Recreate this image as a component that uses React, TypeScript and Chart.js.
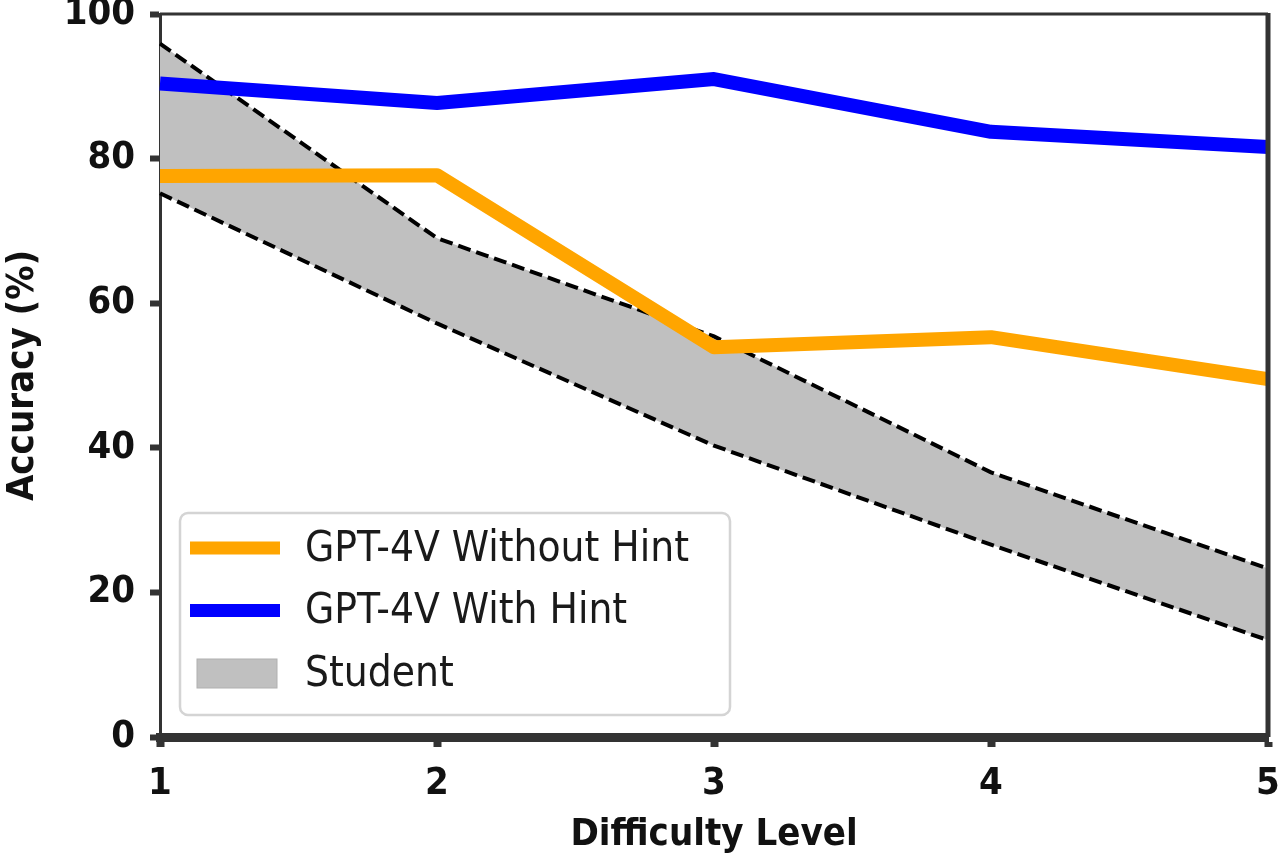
import { useEffect, useRef } from 'react';
import { Chart, registerables } from 'chart.js';

Chart.register(...registerables);

const levels = ['1', '2', '3', '4', '5'];
const withoutHint = [77.6, 77.7, 53.9, 55.3, 49.5];
const withHint = [90.4, 87.7, 91.0, 83.7, 81.6];
const studentHigh = [95.9, 69.0, 55.4, 36.6, 23.3];
const studentLow = [75.2, 57.2, 40.3, 26.6, 13.4];
const yTicks = [0, 20, 40, 60, 80, 100];

const FONT = '"DejaVu Sans Condensed", "DejaVu Sans", sans-serif';
const AXIS = '#333333';

// matplotlib-style legend drawn inside the plot, bottom left
const boxLegend = {
  id: 'boxLegend',
  afterDraw(chart: Chart) {
    const { ctx, chartArea } = chart;
    const x = chartArea.left + 20;
    const w = 550;
    const h = 202;
    const y = chartArea.bottom - 22 - h;
    ctx.save();
    ctx.beginPath();
    ctx.roundRect(x, y, w, h, 8);
    ctx.fillStyle = 'rgba(255,255,255,0.8)';
    ctx.fill();
    ctx.lineWidth = 2.5;
    ctx.strokeStyle = '#d4d4d4';
    ctx.stroke();

    const items = [
      { label: 'GPT-4V Without Hint', color: '#FFA500', kind: 'line' },
      { label: 'GPT-4V With Hint', color: '#0000FF', kind: 'line' },
      { label: 'Student', color: '#C0C0C0', kind: 'box' },
    ];
    ctx.font = `42px ${FONT}`;
    ctx.textBaseline = 'middle';
    ctx.textAlign = 'left';
    items.forEach((it, i) => {
      const cy = y + 35 + i * 62.5;
      if (it.kind === 'line') {
        ctx.fillStyle = it.color;
        ctx.fillRect(x + 10, cy - 6.5, 90, 13);
      } else {
        ctx.fillStyle = it.color;
        ctx.fillRect(x + 17, cy - 14, 80, 29);
        ctx.strokeStyle = '#b0b0b0';
        ctx.lineWidth = 1;
        ctx.strokeRect(x + 17, cy - 14, 80, 29);
      }
      ctx.fillStyle = '#1a1a1a';
      ctx.fillText(it.label, x + 125, cy + 2);
    });
    ctx.restore();
  },
};

// top and right spines
const frame = {
  id: 'frame',
  afterDatasetsDraw(chart: Chart) {
    const { ctx, chartArea } = chart;
    ctx.save();
    ctx.strokeStyle = AXIS;
    ctx.lineWidth = 3;
    ctx.beginPath();
    ctx.moveTo(chartArea.left, chartArea.top);
    ctx.lineTo(chartArea.right, chartArea.top);
    ctx.stroke();
    ctx.lineWidth = 5;
    ctx.beginPath();
    ctx.moveTo(chartArea.right, chartArea.top - 1);
    ctx.lineTo(chartArea.right, chartArea.bottom);
    ctx.stroke();
    ctx.restore();
  },
};

export default function App() {
  const canvasRef = useRef<HTMLCanvasElement>(null);
  const chartRef = useRef<Chart | null>(null);

  useEffect(() => {
    document.body.style.margin = '0';
    if (!canvasRef.current) return;
    if (chartRef.current) chartRef.current.destroy();

    chartRef.current = new Chart(canvasRef.current, {
      type: 'line',
      data: {
        labels: levels,
        datasets: [
          {
            label: 'GPT-4V Without Hint',
            data: withoutHint,
            borderColor: '#FFA500',
            borderWidth: 14,
            pointRadius: 0,
            borderJoinStyle: 'round',
            fill: false,
          },
          {
            label: 'GPT-4V With Hint',
            data: withHint,
            borderColor: '#0000FF',
            borderWidth: 14,
            pointRadius: 0,
            borderJoinStyle: 'round',
            fill: false,
          },
          {
            label: 'Student',
            data: studentHigh,
            borderColor: '#000000',
            borderWidth: 4,
            borderDash: [13, 6],
            backgroundColor: '#C0C0C0',
            pointRadius: 0,
            fill: '+1',
          },
          {
            label: 'Student low',
            data: studentLow,
            borderColor: '#000000',
            borderWidth: 4,
            borderDash: [13, 6],
            pointRadius: 0,
            fill: false,
          },
        ],
      },
      options: {
        responsive: true,
        maintainAspectRatio: false,
        animation: false,
        layout: { padding: { top: 14, right: 12, left: 0, bottom: 0 } },
        plugins: {
          legend: { display: false },
          tooltip: { enabled: false },
          filler: { drawTime: 'beforeDatasetsDraw' },
        },
        scales: {
          x: {
            offset: false,
            grid: {
              drawOnChartArea: false,
              drawTicks: true,
              tickLength: 10,
              tickWidth: 8,
              tickColor: AXIS,
            },
            border: { color: AXIS, width: 9 },
            ticks: {
              color: '#111',
              padding: 14,
              font: { family: FONT, size: 38, weight: 'bold' },
            },
            title: {
              display: true,
              text: 'Difficulty Level',
              color: '#111',
              padding: { top: 0, bottom: 1 },
              font: { family: FONT, size: 38, weight: 'bold' },
            },
            afterFit: (scale: any) => {
              scale.height = 122;
              scale.paddingLeft = 0;
              scale.paddingRight = 0;
            },
          },
          y: {
            min: 0,
            max: 100,
            afterBuildTicks: (scale: any) => {
              scale.ticks = yTicks.map((v) => ({ value: v }));
            },
            grid: {
              drawOnChartArea: false,
              drawTicks: true,
              tickLength: 10,
              tickWidth: 6,
              tickColor: AXIS,
            },
            border: { color: AXIS, width: 3 },
            ticks: {
              color: '#111',
              padding: 15,
              font: { family: FONT, size: 38, weight: 'bold' },
            },
            title: {
              display: true,
              text: 'Accuracy (%)',
              color: '#111',
              padding: { top: 0, bottom: 0 },
              font: { family: FONT, size: 38, weight: 'bold' },
            },
            afterFit: (scale: any) => {
              scale.width = 160;
              scale.paddingTop = 0;
              scale.paddingBottom = 0;
            },
          },
        },
      },
      plugins: [frame, boxLegend],
    });

    return () => {
      chartRef.current?.destroy();
      chartRef.current = null;
    };
  }, []);

  return (
    <div style={{ width: '1280px', height: '859px', position: 'relative' }}>
      <canvas ref={canvasRef} />
    </div>
  );
}
